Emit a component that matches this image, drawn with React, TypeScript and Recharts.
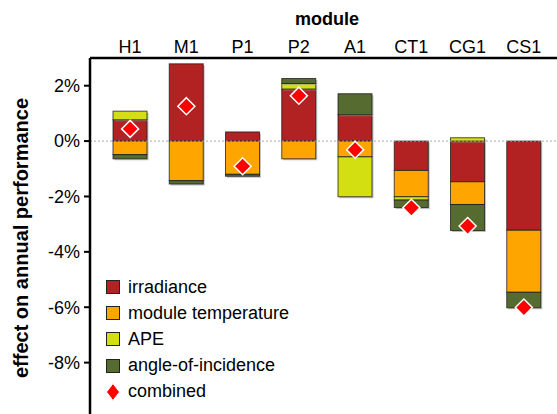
import React from 'react';
import {
  ComposedChart,
  Bar,
  Scatter,
  XAxis,
  YAxis,
  ReferenceLine,
} from 'recharts';

// effect of each loss factor on annual performance, in percent
const modules = ['H1', 'M1', 'P1', 'P2', 'A1', 'CT1', 'CG1', 'CS1'];
const irradiance = [0.77, 2.79, 0.33, 1.88, 0.95, -1.06, -1.47, -3.22];
const moduleTemperature = [-0.49, -1.43, -1.2, -0.64, -0.57, -0.95, -0.82, -2.24];
const ape = [0.31, 0, 0, 0.2, -1.44, -0.12, 0.12, 0];
const angleOfIncidence = [-0.15, -0.12, -0.07, 0.18, 0.76, -0.27, -0.94, -0.56];
const combined = [0.44, 1.26, -0.91, 1.64, -0.31, -2.41, -3.07, -6.01];
const yTicks = [-8, -6, -4, -2, 0, 2];

const series = [
  { key: 'irradiance', name: 'irradiance', color: '#b22222' },
  { key: 'moduleTemperature', name: 'module temperature', color: '#ffa500' },
  { key: 'ape', name: 'APE', color: '#d4df12' },
  { key: 'angleOfIncidence', name: 'angle-of-incidence', color: '#556b2f' },
];

const data = modules.map((m, i) => ({
  module: m,
  irradiance: irradiance[i],
  moduleTemperature: moduleTemperature[i],
  ape: ape[i],
  angleOfIncidence: angleOfIncidence[i],
  combined: combined[i],
}));

const FONT = '"Liberation Sans", Arial, sans-serif';

// bar segment with a soft grey shadow on the lower right
const ShadowRect = (props: any) => {
  const { x, y, width, height, fill } = props;
  if (!width || !height) return null;
  const top = Math.min(y, y + height);
  const h = Math.abs(height);
  return (
    <g>
      <rect x={x + 1.5} y={top + 1.5} width={width} height={h} fill="#9a9a9a" opacity={0.6} />
      <rect x={x} y={top} width={width} height={h} fill={fill} stroke="#1a1a1a" strokeOpacity={0.75} strokeWidth={1} />
    </g>
  );
};

const Diamond = (props: any) => {
  const { cx, cy } = props;
  const r = 8.5;
  return (
    <polygon
      points={`${cx},${cy - r} ${cx + r},${cy} ${cx},${cy + r} ${cx - r},${cy}`}
      fill="#ff0000"
      stroke="#ffffff"
      strokeWidth={1.5}
    />
  );
};

const LegendBox = () => (
  <div
    style={{
      position: 'absolute',
      left: 106,
      top: 274,
      fontFamily: FONT,
      fontSize: 18,
      color: '#000',
    }}
  >
    {series.map((s) => (
      <div key={s.key} style={{ display: 'flex', alignItems: 'center', height: 26.2 }}>
        <span
          style={{
            width: 12,
            height: 12,
            background: s.color,
            border: '1px solid #222',
            marginRight: 8,
            display: 'inline-block',
          }}
        />
        {s.name}
      </div>
    ))}
    <div style={{ display: 'flex', alignItems: 'center', height: 26.2 }}>
      <svg width={14} height={18} style={{ marginRight: 8 }}>
        <polygon points="7,0.5 13.5,9 7,17.5 0.5,9" fill="#ff0000" stroke="#fff" strokeWidth={1} />
      </svg>
      combined
    </div>
  </div>
);

export default function App() {
  return (
    <div style={{ position: 'absolute', left: 0, top: 0, fontFamily: FONT }}>
      <ComposedChart
        width={572}
        height={420}
        data={data}
        stackOffset="sign"
        margin={{ top: 0, right: 8, left: 0, bottom: 2 }}
      >
        <XAxis
          dataKey="module"
          orientation="top"
          height={58}
          padding={{ left: 12, right: 12 }}
          tickLine={false}
          tickSize={3}
          tickMargin={2}
          axisLine={{ stroke: '#000', strokeWidth: 2.5 }}
          tick={{ fill: '#000', fontSize: 18 }}
          label={{
            content: ({ viewBox }: any) => (
              <text
                x={viewBox.x + viewBox.width / 2}
                y={25}
                textAnchor="middle"
                fontSize={18}
                fontWeight="bold"
                fill="#000"
              >
                module
              </text>
            ),
          }}
        />
        <YAxis
          width={90}
          domain={[-10, 3]}
          ticks={yTicks}
          allowDataOverflow
          tickFormatter={(v) => `${v}%`}
          tickSize={6}
          tickMargin={4}
          tickLine={{ stroke: '#000', strokeWidth: 2 }}
          axisLine={{ stroke: '#000', strokeWidth: 2.5 }}
          tick={{ fill: '#000', fontSize: 18 }}
          label={{
            content: ({ viewBox }: any) => {
              const cy = viewBox.y + viewBox.height / 2;
              return (
                <text
                  x={21}
                  y={cy}
                  transform={`rotate(-90, 21, ${cy})`}
                  textAnchor="middle"
                  dominantBaseline="central"
                  fontSize={20}
                  fontWeight="bold"
                  fill="#000"
                >
                  effect on annual performance
                </text>
              );
            },
          }}
        />
        <ReferenceLine y={0} stroke="#aaaaaa" strokeDasharray="2 2" />
        {series.map((s) => (
          <Bar
            key={s.key}
            dataKey={s.key}
            name={s.name}
            stackId="a"
            fill={s.color}
            barSize={34}
            shape={<ShadowRect />}
            isAnimationActive={false}
          />
        ))}
        <Scatter dataKey="combined" name="combined" shape={<Diamond />} isAnimationActive={false} />
      </ComposedChart>
      <LegendBox />
    </div>
  );
}
